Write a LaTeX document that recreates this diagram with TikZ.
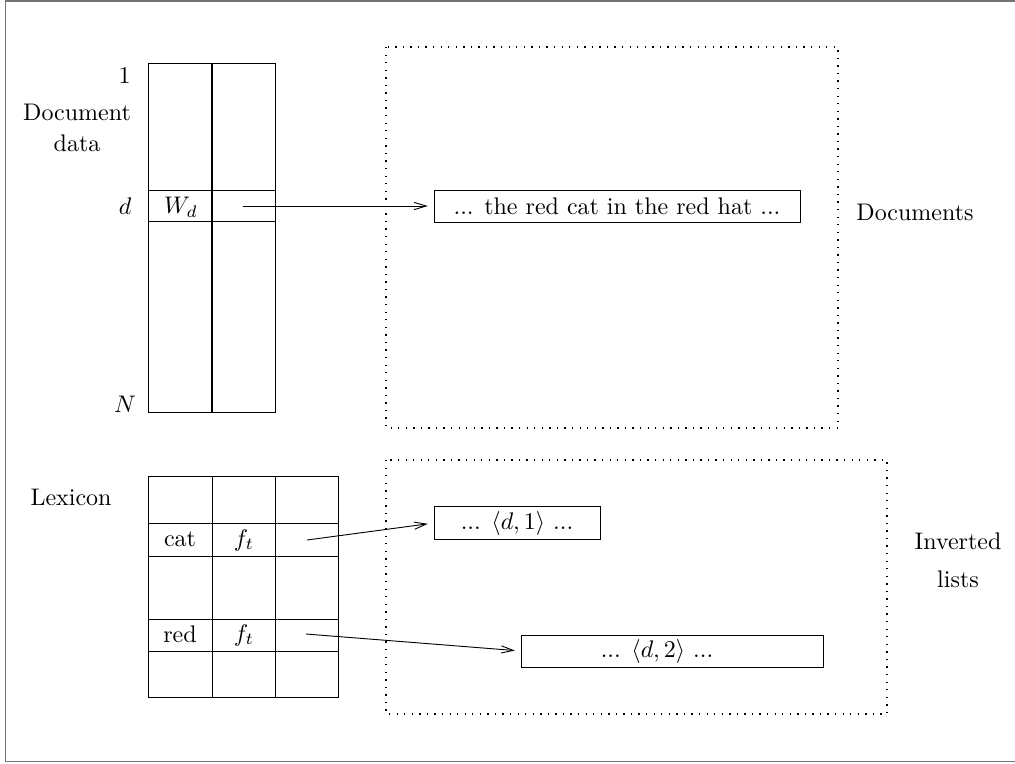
\documentclass[tikz,border=0pt]{standalone}
\usetikzlibrary{arrows.meta}
\begin{document}
\begin{tikzpicture}[x=0.4167pt,y=-0.4167pt,
  thin line/.style={line width=0.38pt},
  thickline/.style={line width=0.8pt},
  frame/.style={draw=black!55,line width=0.6pt},
  dotbox/.style={line width=0.55pt,dash pattern=on 0.55pt off 2.6pt},
  box/.style={draw,line width=0.38pt,inner sep=0pt,outer sep=0pt},
  lbl/.style={inner sep=0pt},
  arr/.style={line width=0.38pt,-{Straight Barb[length=5pt,width=3pt]},shorten >=2.6pt}]
\useasboundingbox (0,0) rectangle (1015,763);
% outer frame
\draw[frame] (1015,0.8) -- (5.5,0.8) -- (5.5,761.5) -- (1015,761.5);
% dotted regions
\draw[dotbox] (386,47) rectangle (838,428);
\draw[dotbox] (386,460) rectangle (887,714);
% document data table
\draw[thin line] (148,63) rectangle (275,412);
\draw[thickline] (212,63) -- (212,412);
\draw[thin line] (148,190) -- (275,190);
\draw[thin line] (148,221) -- (275,221);
\node[lbl,anchor=east] (one) at (131,75) {1};
\node[align=center,lbl] (docdata) at (77,128) {Document\\[1pt]data};
\node[lbl] (dlbl) at (125,206) {$d$};
\node[lbl] (wd) at (181,207) {$W_d$};
\node[lbl] (nlbl) at (125,404) {$N$};
\coordinate (wdptr) at (243,206);
% documents box
\node[box,minimum width=152.5pt,minimum height=13.3pt] (docbox) at (617,206) {... the red cat in the red hat ...};
\node[lbl] (documents) at (915,212) {Documents};
\draw[arr] (wdptr) -- (docbox.west);
% lexicon table
\draw[thin line] (148,476) rectangle (338,697);
\draw[thin line] (212,476) -- (212,697);
\draw[thin line] (275,476) -- (275,697);
\draw[thin line] (148,523) -- (338,523);
\draw[thin line] (148,556) -- (338,556);
\draw[thin line] (148,619) -- (338,619);
\draw[thin line] (148,651) -- (338,651);
\node[lbl] (lexicon) at (71,497) {Lexicon};
\node[lbl] (cat) at (180,539) {cat};
\node[lbl] (ft1) at (244,540) {$f_t$};
\node[lbl] (red) at (180,634) {red};
\node[lbl] (ft2) at (244,635) {$f_t$};
\coordinate (catptr) at (307,540);
\coordinate (redptr) at (306,634);
% inverted list boxes
\node[box,minimum width=69.2pt,minimum height=13.75pt] (list1) at (517,523) {... $\langle d,1\rangle$ ...};
\node[box,minimum width=125.8pt,minimum height=13.3pt] (list2) at (672,651) {};
\node[lbl] (list2txt) at (657,651) {... $\langle d,2\rangle$ ...};
\draw[arr] (catptr) -- (list1.west);
\draw[arr] (redptr) -- (list2.west);
\node[align=center,lbl] (invlists) at (958,560) {Inverted\\[4pt]lists};
\end{tikzpicture}
\end{document}
